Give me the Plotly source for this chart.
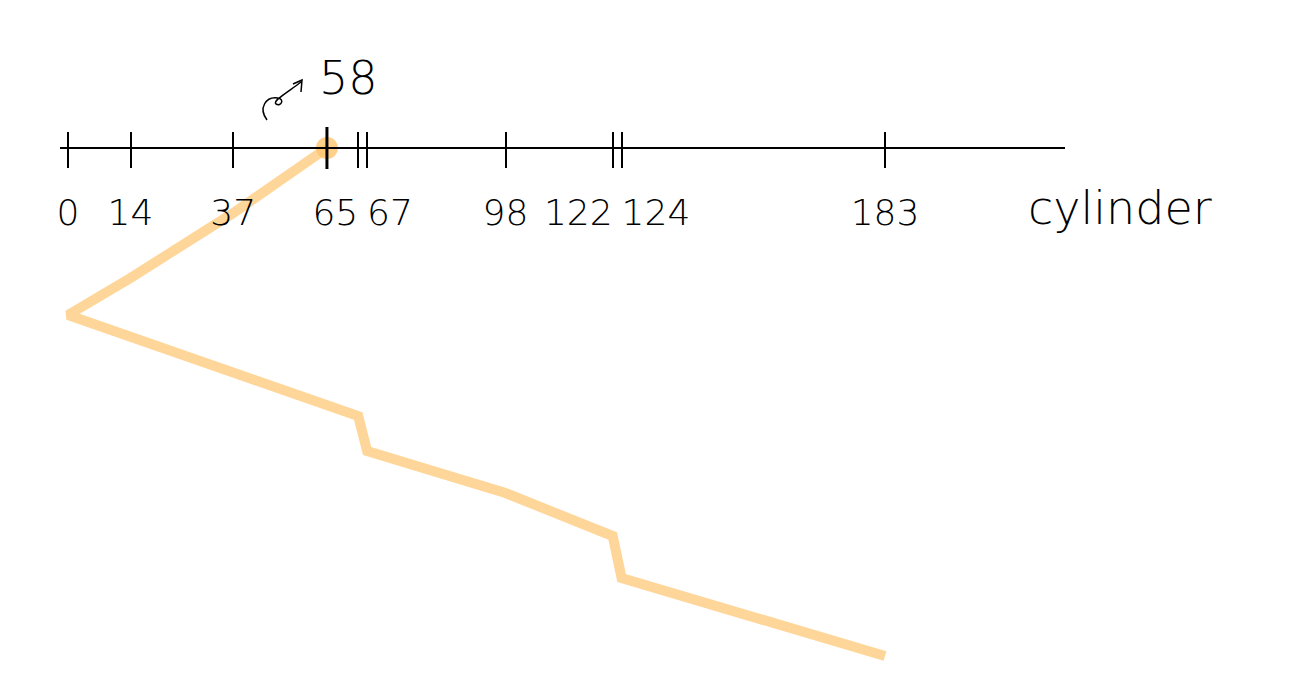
import plotly.graph_objects as go

# ---- data ----
cylinders = [0, 14, 37, 65, 67, 98, 122, 124, 183]      # request tick positions
tick_labels = ["0", "14", "37", "65", "67", "98", "122", "124", "183"]
head_start = 58
# service order (SCAN towards 0, then up) and the drawn depth of each step
path_cyl = [58, 37, 14, 0, 65, 67, 98, 122, 124, 183]
path_depth = [0, 65, 130, 167, 268, 303, 345, 388, 430, 508]
axis_title = "cylinder"

W, H = 1301, 690
def px(x):
    return x / W
def py(y):
    return 1 - y / H

HAND = dict(family="DejaVu Sans", color="black", weight=200)

fig = go.Figure()

# travel path
fig.add_trace(go.Scatter(
    x=path_cyl, y=path_depth, mode="lines",
    line=dict(color="rgba(255,196,110,0.7)", width=10),
    hoverinfo="skip", showlegend=False, cliponaxis=False,
))
# start marker
fig.add_trace(go.Scatter(
    x=[head_start], y=[0], mode="markers",
    marker=dict(color="rgba(255,196,110,0.8)", size=22),
    hoverinfo="skip", showlegend=False, cliponaxis=False,
))
# head tick (bold)
fig.add_trace(go.Scatter(
    x=[head_start], y=[0], mode="markers",
    marker=dict(symbol="line-ns", size=30, line=dict(color="black", width=3)),
    hoverinfo="skip", showlegend=False, cliponaxis=False,
))

# tick labels as text, nudged apart where requests sit close together
label_pos = []
for i, c in enumerate(cylinders):
    nxt = cylinders[i + 1] if i + 1 < len(cylinders) else None
    prv = cylinders[i - 1] if i > 0 else None
    if nxt is not None and nxt - c < 8:
        label_pos.append("middle left")
    elif prv is not None and c - prv < 8:
        label_pos.append("middle right")
    else:
        label_pos.append("middle center")
fig.add_trace(go.Scatter(
    x=cylinders, y=[68] * len(cylinders), mode="text", text=tick_labels,
    textposition=label_pos, textfont=dict(size=36, **HAND),
    hoverinfo="skip", showlegend=False, cliponaxis=False,
))

scale = (877 - 60) / 183.0
left_px, right_px = 52, 1057
xr = [-(60 - left_px) / scale, (right_px - 60) / scale]
axis_pos = py(140)

common = dict(
    range=xr, domain=[px(left_px), px(right_px)], anchor="free", position=axis_pos,
    showline=True, linecolor="black", linewidth=2,
    tickmode="array", tickvals=cylinders, ticks="outside",
    tickwidth=2, tickcolor="black", showgrid=False, zeroline=False,
    showticklabels=False,
)
fig.update_layout(
    xaxis=dict(**common, side="bottom", ticklen=19),
    xaxis2=dict(**common, side="top", overlaying="x", matches="x", ticklen=15),
    yaxis=dict(range=[550, -140], domain=[0, 1], visible=False, showgrid=False, zeroline=False),
    width=W, height=H,
    margin=dict(l=0, r=0, t=0, b=0),
    plot_bgcolor="white", paper_bgcolor="white",
    showlegend=False,
)
# invisible trace so the top (tick) axis is drawn
fig.add_trace(go.Scatter(x=[head_start], y=[0], xaxis="x2", mode="markers",
                         marker=dict(opacity=0), hoverinfo="skip", showlegend=False))

fig.add_annotation(text=axis_title, x=px(1112), y=py(200), xref="paper", yref="paper",
                   showarrow=False, xanchor="center", yanchor="middle",
                   font=dict(size=46, **HAND))
fig.add_annotation(text=str(head_start), x=px(340), y=py(70), xref="paper", yref="paper",
                   showarrow=False, xanchor="center", yanchor="middle",
                   font=dict(size=46, **HAND))

def P(x, y):
    return f"{px(x):.5f},{py(y):.5f}"
squiggle = (f"M {P(259,112)} C {P(250,100)} {P(258,88)} {P(270,90)} "
            f"C {P(277,91)} {P(273,99)} {P(268,96)} C {P(264,93)} {P(280,84)} {P(293,74)} "
            f"M {P(285,76)} L {P(294,72)} L {P(293,84)}")
fig.add_shape(type="path", path=squiggle, xref="paper", yref="paper",
              line=dict(color="black", width=1.5))

fig.write_html("out.html")
